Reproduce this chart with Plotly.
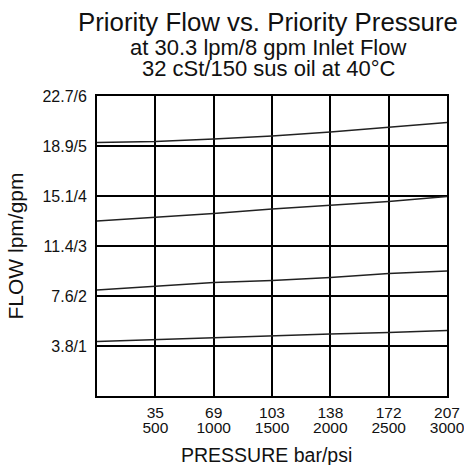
import plotly.graph_objects as go

# ---- data ----
pressure_psi = [0, 500, 1000, 1500, 2000, 2500, 3000]
tick_psi = [500, 1000, 1500, 2000, 2500, 3000]
tick_bar_text = ["35", "69", "103", "138", "172", "207"]
tick_psi_text = ["500", "1000", "1500", "2000", "2500", "3000"]
flow_ticks_gpm = [1, 2, 3, 4, 5, 6]
flow_tick_text = ["3.8/1", "7.6/2", "11.4/3", "15.1/4", "18.9/5", "22.7/6"]

flow_curve_1 = [5.07, 5.09, 5.14, 5.20, 5.28, 5.37, 5.47]
flow_curve_2 = [3.50, 3.57, 3.65, 3.74, 3.81, 3.89, 3.99]
flow_curve_3 = [2.12, 2.19, 2.27, 2.31, 2.37, 2.45, 2.50]
flow_curve_4 = [1.09, 1.13, 1.17, 1.20, 1.24, 1.27, 1.31]

title_lines = [
    "Priority Flow vs. Priority Pressure",
    "at 30.3 lpm/8 gpm Inlet Flow",
    "32 cSt/150 sus oil at 40°C",
]
x_title = "PRESSURE bar/psi"
y_title = "FLOW lpm/gpm"

# ---- layout geometry ----
W, H = 464, 465
ML, MR, MT, MB = 97, 17, 96, 30
paper_h = H - MT - MB
paper_w = W - ML - MR
plot_bottom_px = 396


def py(px):
    return (H - MB - px) / paper_h


def px_(x):
    return (x - ML) / paper_w


FONT = "Liberation Sans, Arial, sans-serif"
INK = "#111111"

fig = go.Figure()
for ys in [flow_curve_1, flow_curve_2, flow_curve_3, flow_curve_4]:
    fig.add_trace(go.Scatter(x=pressure_psi, y=ys, mode="lines",
                             line=dict(color="#222222", width=1.4),
                             showlegend=False, hoverinfo="skip"))

# invisible trace on xaxis2 so that axis renders
fig.add_trace(go.Scatter(x=[0], y=[0], xaxis="x2", yaxis="y", mode="markers",
                         marker=dict(opacity=0), showlegend=False, hoverinfo="skip"))

fig.update_layout(
    width=W, height=H,
    margin=dict(l=ML, r=MR, t=MT, b=MB, autoexpand=False),
    paper_bgcolor="white", plot_bgcolor="white",
    font=dict(family=FONT, color=INK),
    xaxis=dict(range=[0, 3000], tickvals=tick_psi, ticktext=tick_bar_text,
               showgrid=True, gridcolor="black", gridwidth=1.8,
               showline=True, mirror=True, linecolor="black", linewidth=1.8,
               zeroline=False, ticks="", tickfont=dict(size=15.5, family=FONT, color=INK),
               ticklabelstandoff=1, anchor="y", automargin=False,
               ticklabeloverflow="allow"),
    xaxis2=dict(range=[0, 3000], tickvals=tick_psi, ticktext=tick_psi_text,
                overlaying="x", anchor="free", position=py(plot_bottom_px + 19.5), side="bottom",
                showgrid=False, showline=False, zeroline=False, ticks="",
                tickfont=dict(size=15.5, family=FONT, color=INK), ticklabelstandoff=1,
                automargin=False, ticklabeloverflow="allow"),
    yaxis=dict(range=[0, 6], tickvals=flow_ticks_gpm, ticktext=flow_tick_text,
               domain=[py(plot_bottom_px), 1],
               showgrid=True, gridcolor="black", gridwidth=1.8,
               showline=True, mirror=True, linecolor="black", linewidth=1.8,
               zeroline=False, ticks="", tickfont=dict(size=16, family=FONT, color=INK),
               ticklabelstandoff=5, automargin=False,
               title=dict(text=y_title, font=dict(size=21, family=FONT, color=INK),
                          standoff=13)),
)

# x-axis title
fig.add_annotation(text=x_title, xref="paper", yref="paper",
                   x=px_(266.5), y=py(455), xanchor="center", yanchor="middle",
                   showarrow=False, font=dict(size=19.5, family=FONT, color=INK))

title_sizes = [25.8, 22, 22]
title_centers_px = [22.2, 47.0, 68.5]
for txt, sz, cy in zip(title_lines, title_sizes, title_centers_px):
    fig.add_annotation(text=txt, xref="paper", yref="paper",
                       x=px_(268), y=py(cy),
                       xanchor="center", yanchor="middle", showarrow=False,
                       font=dict(size=sz, family=FONT, color=INK))

fig.write_html(
    "out.html",
    config={"displayModeBar": False},
    post_script="document.documentElement.style.overflow='hidden';"
                "document.body.style.margin='0';document.body.style.overflow='hidden';",
)
